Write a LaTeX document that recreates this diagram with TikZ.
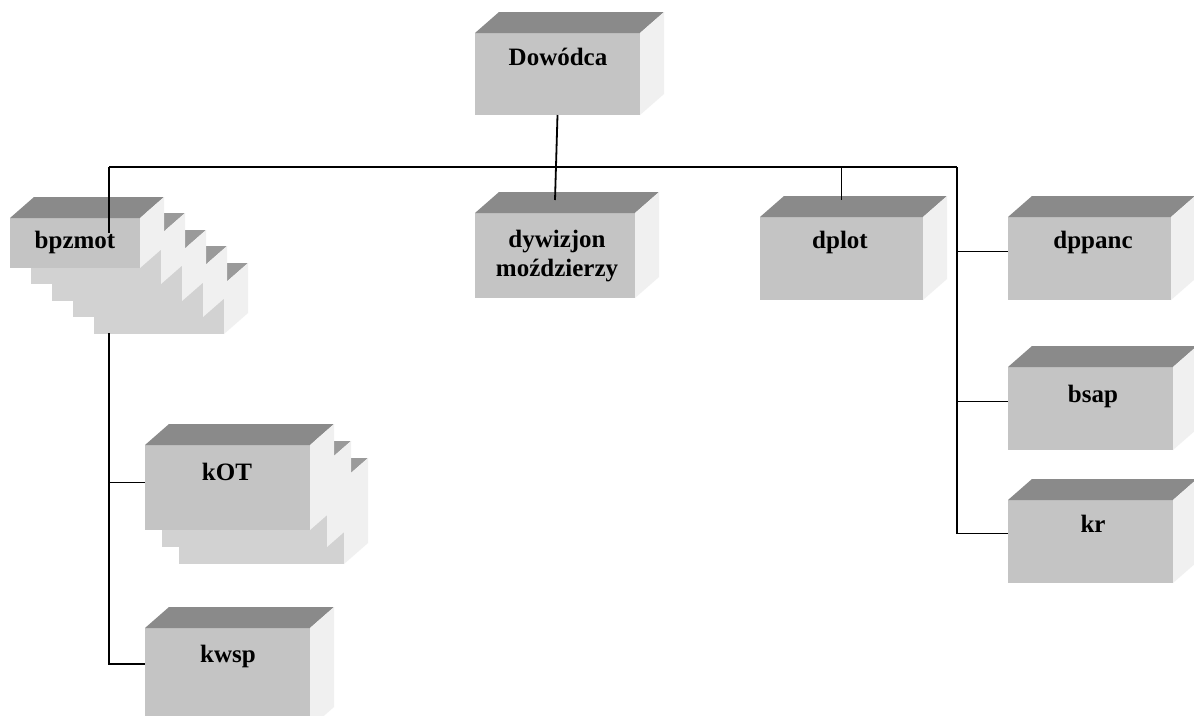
\documentclass[tikz,border=0pt]{standalone}
\usepackage{fontspec}
\setmainfont{Liberation Serif}
\definecolor{frontc}{HTML}{C4C4C4}
\definecolor{topc}{HTML}{8A8A8A}
\definecolor{sidec}{HTML}{F0F0F0}
\definecolor{cfrontc}{HTML}{D2D2D2}
\definecolor{ctopc}{HTML}{9A9A9A}
\tikzset{
  lbl/.style={font=\bfseries\fontsize{25}{30}\selectfont, inner sep=0pt, anchor=base},
  conn/.style={draw=black, line width=1.8pt},
}
\newcommand\cubebox[7]{%
  \node[fill=#6, inner sep=0pt, outer sep=0pt, anchor=north west, minimum width=#4pt, minimum height=#5pt] (#1) at (#2,#3) {};
  \fill[#7] (#1.north west) -- ++(24,-21) -- ++(#4,0) -- (#1.north east) -- cycle;
  \fill[sidec] (#1.north east) -- ++(24,-21) -- ++(0,#5) -- (#1.south east) -- cycle;
}
\begin{document}
\begin{tikzpicture}[x=1pt,y=-1pt]
\useasboundingbox (0,0) rectangle (1194,715);
\fill[white] (0,0) rectangle (1194,715);

\coordinate (hL) at (109,167);
\coordinate (hR) at (957,167);
\coordinate (bpzIn) at (109,233);
\coordinate (vL) at (109,333);

% Dowodca
\cubebox{dow}{475}{33}{165}{82}{frontc}{topc}
\node[lbl] (dowt) at (558,65) {Dowódca};

% bpzmot stack
\cubebox{bpz4}{94}{284}{130}{50}{cfrontc}{ctopc}
\cubebox{bpz3}{73}{267}{130}{50}{cfrontc}{ctopc}
\cubebox{bpz2}{52}{251}{130}{50}{cfrontc}{ctopc}
\cubebox{bpz1}{31}{234}{130}{50}{cfrontc}{ctopc}
\cubebox{bpz}{10}{218}{130}{50}{frontc}{topc}
\node[lbl] (bpzt) at (75,248) {bpzmot};

% dywizjon
\cubebox{dyw}{475}{213}{160}{85}{frontc}{topc}
\node[lbl] (dywa) at (557,247) {dywizjon};
\node[lbl] (dywb) at (557,276) {moździerzy};

% dplot
\cubebox{dpl}{760}{217}{163}{83}{frontc}{topc}
\node[lbl] (dplt) at (840,248) {dplot};

% right column
\cubebox{dpp}{1008}{217}{163}{83}{frontc}{topc}
\node[lbl] (dppt) at (1093,248) {dppanc};
\cubebox{bsap}{1008}{367}{165}{83}{frontc}{topc}
\node[lbl] (bsapt) at (1093,402) {bsap};
\cubebox{kr}{1008}{500}{165}{83}{frontc}{topc}
\node[lbl] (krt) at (1093,532) {kr};

% kOT stack
\cubebox{kot2}{179}{479}{165}{85}{cfrontc}{ctopc}
\cubebox{kot1}{162}{462}{165}{85}{cfrontc}{ctopc}
\cubebox{kot}{145}{445}{165}{85}{frontc}{topc}
\node[lbl] (kott) at (227,480) {kOT};

% kwsp
\cubebox{kwsp}{145}{628}{165}{100}{frontc}{topc}
\node[lbl] (kwspt) at (228,662) {kwsp};

% connector lines
\draw[conn] (hL) -- (hR);
\draw[conn] (dow.south) -- ([yshift=13pt]dyw.north);
\draw[conn] (hL) -- (bpzIn);
\draw[conn] (hL -| dpl.north) -- ([yshift=17pt]dpl.north);
\draw[conn] (hR) |- ([yshift=7pt]dpp.west);
\draw[conn] (hR) |- ([yshift=7pt]bsap.west);
\draw[conn] (hR) |- ([yshift=8pt]kr.west);
\draw[conn] (vL) |- ([yshift=5pt]kot.west);
\draw[conn] (vL) |- ([yshift=14pt]kwsp.west);
\end{tikzpicture}
\end{document}
